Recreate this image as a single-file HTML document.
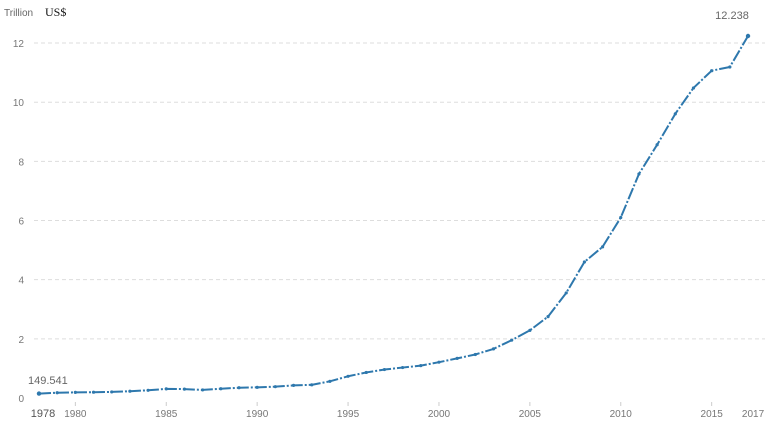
<!DOCTYPE html>
<html><head><meta charset="utf-8"><style>
html,body{margin:0;padding:0;background:#fff;width:776px;height:426px;overflow:hidden}
svg text{font-family:"Liberation Sans",sans-serif}
</style></head><body>
<svg id="s" width="776" height="426" xmlns="http://www.w3.org/2000/svg">
<text x="4" y="16" font-size="10" fill="#666">Trillion</text>
<text x="45" y="16" font-size="12" fill="#111" style="font-family:'Liberation Serif',serif">US$</text>
</svg>
<script>
var s=document.getElementById('s'),ns='http://www.w3.org/2000/svg';
function el(t,a,txt){var e=document.createElementNS(ns,t);for(var k in a)e.setAttribute(k,a[k]);if(txt!=null)e.textContent=txt;s.appendChild(e);return e;}
var d=[.1495,.178,.191,.196,.205,.230,.260,.309,.301,.273,.312,.348,.361,.383,.427,.445,.564,.734,.864,.962,1.029,1.094,1.211,1.339,1.471,1.660,1.955,2.286,2.752,3.552,4.598,5.110,6.101,7.573,8.561,9.607,10.482,11.065,11.191,12.238];
function X(y){return 39+(y-1978)*18.18;}function Y(v){return 398-v*29.58;}
for(var g=0;g<=12;g+=2){var y=Y(g);
 if(g>0)el('line',{x1:34,x2:765,y1:y,y2:y,stroke:'#ddd','stroke-dasharray':'4,3','stroke-width':1});
 el('text',{x:24,y:y+4,'font-size':10,fill:'#777','text-anchor':'end'},g);}
[1980,1985,1990,1995,2000,2005,2010,2015].forEach(function(y){var x=X(y);
 el('line',{x1:x,x2:x,y1:402,y2:406,stroke:'#ccc'});
 el('text',{x:x,y:417,'font-size':10,fill:'#777','text-anchor':'middle'},y);});
el('text',{x:X(1978)+4,y:417,'font-size':11,fill:'#555','text-anchor':'middle'},'1978');
el('text',{x:X(2017)+5,y:417,'font-size':10,fill:'#777','text-anchor':'middle'},'2017');
var p=d.map(function(v,i){return X(1978+i)+','+Y(v)}).join(' ');
el('polyline',{points:p,fill:'none',stroke:'#2e78ad','stroke-width':2,'stroke-dasharray':'12,2,2,2','stroke-linejoin':'round'});
d.forEach(function(v,i){el('circle',{cx:X(1978+i),cy:Y(v),r:(i==0||i==d.length-1)?2.2:1.6,fill:'#2e78ad'});});
el('text',{x:28,y:384,'font-size':11,fill:'#666'},'149.541');
el('text',{x:732,y:19,'font-size':11,fill:'#666','text-anchor':'middle'},'12.238');
</script>
</body></html>
